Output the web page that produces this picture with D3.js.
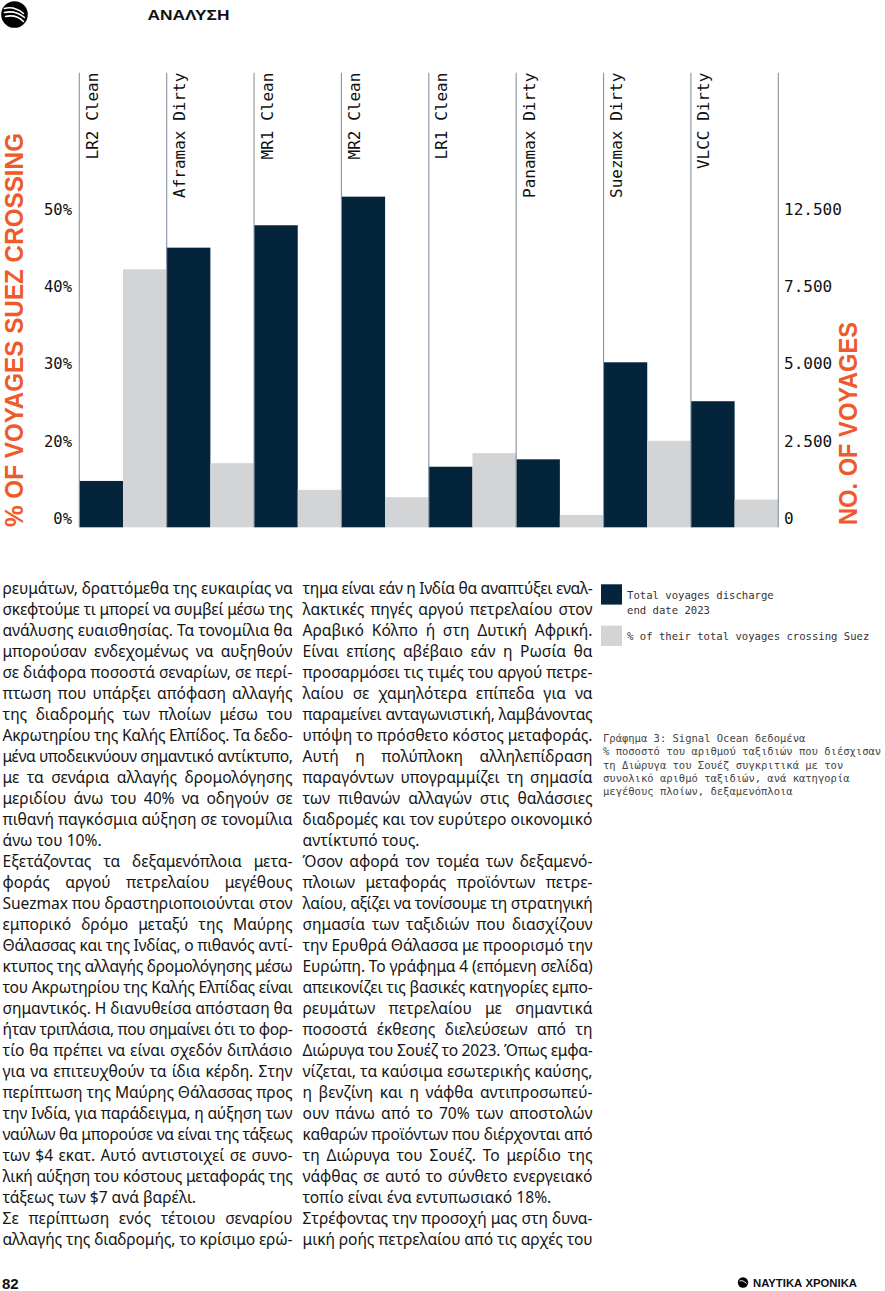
<!DOCTYPE html>
<html>
<head>
<meta charset="utf-8">
<script src="https://cdn.jsdelivr.net/npm/d3@7"></script>
<style>
  html, body { margin: 0; padding: 0; background: #fff; }
  #page { position: relative; width: 885px; height: 1291px; overflow: hidden; background: #fff; }
  svg { position: absolute; left: 0; top: 0; }
  .line { position: absolute; height: 21px; line-height: 21px; font-family: "Noto Sans", sans-serif; font-size: 15.6px; color: #151515; white-space: nowrap; }
</style>
</head>
<body>
<div id="page"></div>
<script>
// ---------------- DATA ----------------
const categories = ["LR2 Clean", "Aframax Dirty", "MR1 Clean", "MR2 Clean", "LR1 Clean", "Panamax Dirty", "Suezmax Dirty", "VLCC Dirty"];
const totalVoyages = [1500, 10600, 12050, 13900, 1960, 2200, 5340, 4080];   // right axis
const pctSuez = [43.4, 16.6, 9.7, 7.8, 19.2, 3.2, 21.2, 7.2];              // left axis
const pctTicks = [0, 20, 30, 40, 50];
const voyageTicks = [0, 2500, 5000, 7500, 12500];
const legendItems = ["Total voyages discharge\nend date 2023", "% of their total voyages crossing Suez"];
const captionLines = [
  "Γράφημα 3: Signal Ocean δεδομένα",
  "% ποσοστό του αριθμού ταξιδιών που διέσχισαν",
  "τη Διώρυγα του Σουέζ συγκριτικά με τον",
  "συνολικό αριθμό ταξιδιών, ανά κατηγορία",
  "μεγέθους πλοίων, δεξαμενόπλοια"
];
const col1 = [
  "ρευμάτων, δραττόμεθα της ευκαιρίας να",
  "σκεφτούμε τι μπορεί να συμβεί μέσω της",
  "ανάλυσης ευαισθησίας. Τα τονομίλια θα",
  "μπορούσαν ενδεχομένως να αυξηθούν",
  "σε διάφορα ποσοστά σεναρίων, σε περί-",
  "πτωση που υπάρξει απόφαση αλλαγής",
  "της διαδρομής των πλοίων μέσω του",
  "Ακρωτηρίου της Καλής Ελπίδος. Τα δεδο-",
  "μένα υποδεικνύουν σημαντικό αντίκτυπο,",
  "με τα σενάρια αλλαγής δρομολόγησης",
  "μεριδίου άνω του 40% να οδηγούν σε",
  "πιθανή παγκόσμια αύξηση σε τονομίλια",
  "άνω του 10%.|",
  "Εξετάζοντας τα δεξαμενόπλοια μετα-",
  "φοράς αργού πετρελαίου μεγέθους",
  "Suezmax που δραστηριοποιούνται στον",
  "εμπορικό δρόμο μεταξύ της Μαύρης",
  "Θάλασσας και της Ινδίας, ο πιθανός αντί-",
  "κτυπος της αλλαγής δρομολόγησης μέσω",
  "του Ακρωτηρίου της Καλής Ελπίδας είναι",
  "σημαντικός. Η διανυθείσα απόσταση θα",
  "ήταν τριπλάσια, που σημαίνει ότι το φορ-",
  "τίο θα πρέπει να είναι σχεδόν διπλάσιο",
  "για να επιτευχθούν τα ίδια κέρδη. Στην",
  "περίπτωση της Μαύρης Θάλασσας προς",
  "την Ινδία, για παράδειγμα, η αύξηση των",
  "ναύλων θα μπορούσε να είναι της τάξεως",
  "των $4 εκατ. Αυτό αντιστοιχεί σε συνο-",
  "λική αύξηση του κόστους μεταφοράς της",
  "τάξεως των $7 ανά βαρέλι.|",
  "Σε περίπτωση ενός τέτοιου σεναρίου",
  "αλλαγής της διαδρομής, το κρίσιμο ερώ-"
];
const col2 = [
  "τημα είναι εάν η Ινδία θα αναπτύξει εναλ-",
  "λακτικές πηγές αργού πετρελαίου στον",
  "Αραβικό Κόλπο ή στη Δυτική Αφρική.",
  "Είναι επίσης αβέβαιο εάν η Ρωσία θα",
  "προσαρμόσει τις τιμές του αργού πετρε-",
  "λαίου σε χαμηλότερα επίπεδα για να",
  "παραμείνει ανταγωνιστική, λαμβάνοντας",
  "υπόψη το πρόσθετο κόστος μεταφοράς.",
  "Αυτή η πολύπλοκη αλληλεπίδραση",
  "παραγόντων υπογραμμίζει τη σημασία",
  "των πιθανών αλλαγών στις θαλάσσιες",
  "διαδρομές και τον ευρύτερο οικονομικό",
  "αντίκτυπό τους.|",
  "Όσον αφορά τον τομέα των δεξαμενό-",
  "πλοιων μεταφοράς προϊόντων πετρε-",
  "λαίου, αξίζει να τονίσουμε τη στρατηγική",
  "σημασία των ταξιδιών που διασχίζουν",
  "την Ερυθρά Θάλασσα με προορισμό την",
  "Ευρώπη. Το γράφημα 4 (επόμενη σελίδα)",
  "απεικονίζει τις βασικές κατηγορίες εμπο-",
  "ρευμάτων πετρελαίου με σημαντικά",
  "ποσοστά έκθεσης διελεύσεων από τη",
  "Διώρυγα του Σουέζ το 2023. Όπως εμφα-",
  "νίζεται, τα καύσιμα εσωτερικής καύσης,",
  "η βενζίνη και η νάφθα αντιπροσωπεύ-",
  "ουν πάνω από το 70% των αποστολών",
  "καθαρών προϊόντων που διέρχονται από",
  "τη Διώρυγα του Σουέζ. Το μερίδιο της",
  "νάφθας σε αυτό το σύνθετο ενεργειακό",
  "τοπίο είναι ένα εντυπωσιακό 18%.|",
  "Στρέφοντας την προσοχή μας στη δυνα-",
  "μική ροής πετρελαίου από τις αρχές του"
];

// ---------------- STYLE ----------------
const DARK = "#03243a", LIGHT = "#d2d4d5", ORANGE = "#ee5a2a", SEP = "#8693a0";
const MONO = "'DejaVu Sans Mono', 'Liberation Mono', monospace";
const SANS = "'Liberation Sans', Arial, sans-serif";

const page = d3.select("#page");
const svg = page.append("svg").attr("width", 885).attr("height", 1291);

// ---------------- HEADER ----------------
const logo = svg.append("g").attr("transform", "translate(14.5,14.5)");
logo.append("circle").attr("r", 13.3).attr("fill", "#000");
[["M-10,-6 C-3,-8 4,-5 9,-1"], ["M-10,-2 C-2,-4 5,-1 10,3"], ["M-9,2 C-1,0 5,3 9,7"]].forEach(p =>
  logo.append("path").attr("d", p[0]).attr("fill", "none").attr("stroke", "#fff").attr("stroke-width", 1.6).attr("stroke-linecap", "round"));
svg.append("text").attr("x", 147.5).attr("y", 19.5).attr("font-family", SANS).attr("font-weight", "bold")
  .attr("font-size", 15.5).attr("textLength", 82).attr("lengthAdjust", "spacingAndGlyphs").attr("fill", "#111").text("ΑΝΑΛΥΣΗ");

// ---------------- CHART ----------------
const yBase = 527.3, step = 77.25, chartTop = 72.7;
const x = d3.scaleBand().domain(categories).range([79.3, 778.3]).padding(0);
const xs = d3.scaleBand().domain(["voyages", "pct"]).range([0, x.bandwidth()]).padding(0);
const yPct = d3.scaleLinear().domain(pctTicks).range(pctTicks.map((d, i) => yBase - i * step));
const yCnt = d3.scaleLinear().domain(voyageTicks).range(voyageTicks.map((d, i) => yBase - i * step));

const chart = svg.append("g");
const rows = categories.map((c, i) => ({ c, v: totalVoyages[i], p: pctSuez[i] }));

chart.selectAll("rect.dark").data(rows).join("rect").attr("class", "dark")
  .attr("x", d => x(d.c) + xs("voyages")).attr("width", xs.bandwidth())
  .attr("y", d => yCnt(d.v)).attr("height", d => yBase - yCnt(d.v)).attr("fill", DARK);
chart.selectAll("rect.light").data(rows).join("rect").attr("class", "light")
  .attr("x", d => x(d.c) + xs("pct")).attr("width", xs.bandwidth())
  .attr("y", d => yPct(d.p)).attr("height", d => yBase - yPct(d.p)).attr("fill", LIGHT);

// separators
const sepX = categories.map(c => x(c)).concat([x.range()[1]]);
chart.selectAll("line.sep").data(sepX).join("line").attr("class", "sep")
  .attr("x1", d => d).attr("x2", d => d).attr("y1", chartTop).attr("y2", yBase)
  .attr("stroke", SEP).attr("stroke-width", 1.1);

// category labels
chart.selectAll("text.cat").data(categories).join("text").attr("class", "cat")
  .attr("transform", d => `translate(${x(d) + 18.5},${chartTop}) rotate(-90)`)
  .attr("text-anchor", "end").attr("font-family", MONO).attr("font-size", 16).attr("fill", "#111")
  .text(d => d);

// left axis
const axL = chart.append("g").attr("transform", "translate(72,-9)")
  .call(d3.axisLeft(yPct).tickValues(pctTicks).tickFormat(d => d + "%").tickSize(0).tickPadding(0));
axL.select(".domain").remove();
axL.selectAll("text").attr("font-family", MONO).attr("font-size", 15.5).attr("fill", "#111");

// right axis
const fmtNum = d => d3.format(",")(d).replace(/,/g, ".");
const axR = chart.append("g").attr("transform", "translate(784,-9)")
  .call(d3.axisRight(yCnt).tickValues(voyageTicks).tickFormat(fmtNum).tickSize(0).tickPadding(0));
axR.select(".domain").remove();
axR.selectAll("text").attr("font-family", MONO).attr("font-size", 16).attr("fill", "#111");

// axis titles
svg.append("text").attr("transform", "translate(23.3,527) rotate(-90)").attr("text-anchor", "start")
  .attr("font-family", SANS).attr("font-weight", "bold").attr("font-size", 25)
  .attr("textLength", 394).attr("lengthAdjust", "spacingAndGlyphs").attr("fill", ORANGE)
  .text("% OF VOYAGES SUEZ CROSSING");
svg.append("text").attr("transform", "translate(857,525) rotate(-90)").attr("text-anchor", "start")
  .attr("font-family", SANS).attr("font-weight", "bold").attr("font-size", 25.5)
  .attr("textLength", 203).attr("lengthAdjust", "spacingAndGlyphs").attr("fill", ORANGE)
  .text("NO. OF VOYAGES");

// ---------------- LEGEND ----------------
const leg = svg.append("g");
const legY = [584.3, 625.7];
legendItems.forEach((t, i) => {
  leg.append("rect").attr("x", 601).attr("y", legY[i]).attr("width", 21).attr("height", 20.3).attr("fill", i === 0 ? DARK : LIGHT);
  t.split("\n").forEach((ln, j) => {
    leg.append("text").attr("x", 627).attr("y", legY[i] + 10.7 + j * 15).attr("dy", "0.35em")
      .attr("font-family", MONO).attr("font-size", 10.6).attr("fill", "#333").text(ln);
  });
});

// ---------------- CAPTION ----------------
captionLines.forEach((ln, i) => {
  svg.append("text").attr("x", 603).attr("y", 738.3 + i * 13.35).attr("dy", "0.35em")
    .attr("font-family", MONO).attr("font-size", 10.5).attr("fill", "#444").text(ln);
});

// ---------------- FOOTER ----------------
svg.append("text").attr("x", 2).attr("y", 1289).attr("font-family", SANS).attr("font-weight", "bold")
  .attr("font-size", 15).attr("fill", "#111").text("82");
const flogo = svg.append("g").attr("transform", "translate(743,1282.5)");
flogo.append("circle").attr("r", 5.2).attr("fill", "#000");
flogo.append("path").attr("d", "M-3.5,-1.5 C-1,-2.5 1.5,-1 3.5,1").attr("stroke", "#fff").attr("fill", "none").attr("stroke-width", 1);
svg.append("text").attr("x", 753).attr("y", 1286.6).attr("font-family", SANS).attr("font-weight", "bold")
  .attr("font-size", 10.5).attr("textLength", 104).attr("lengthAdjust", "spacingAndGlyphs").attr("fill", "#111")
  .text("ΝΑΥΤΙΚΑ ΧΡΟΝΙΚΑ");

// ---------------- BODY TEXT ----------------
function column(lines, left, width) {
  lines.forEach((raw, i) => {
    const last = raw.endsWith("|");
    const txt = last ? raw.slice(0, -1) : raw;
    const div = page.append("div").attr("class", "line")
      .style("left", left + "px").style("top", (578 + i * 21) + "px").style("width", width + "px");
    const span = div.append("span").text(txt);
    const natural = span.node().getBoundingClientRect().width;
    const words = txt.split(" ");
    if (!last) {
      if (natural > width) {
        const ls = (width - natural) / txt.length;
        span.style("letter-spacing", ls + "px");
      } else {
        const extra = width - natural;
        span.style("word-spacing", (extra / Math.max(1, words.length - 1)) + "px");
      }
    } else if (natural > width) {
      span.style("letter-spacing", ((width - natural) / txt.length) + "px");
    }
  });
}
column(col1, 2.5, 290);
column(col2, 302.5, 290);
</script>
</body>
</html>
